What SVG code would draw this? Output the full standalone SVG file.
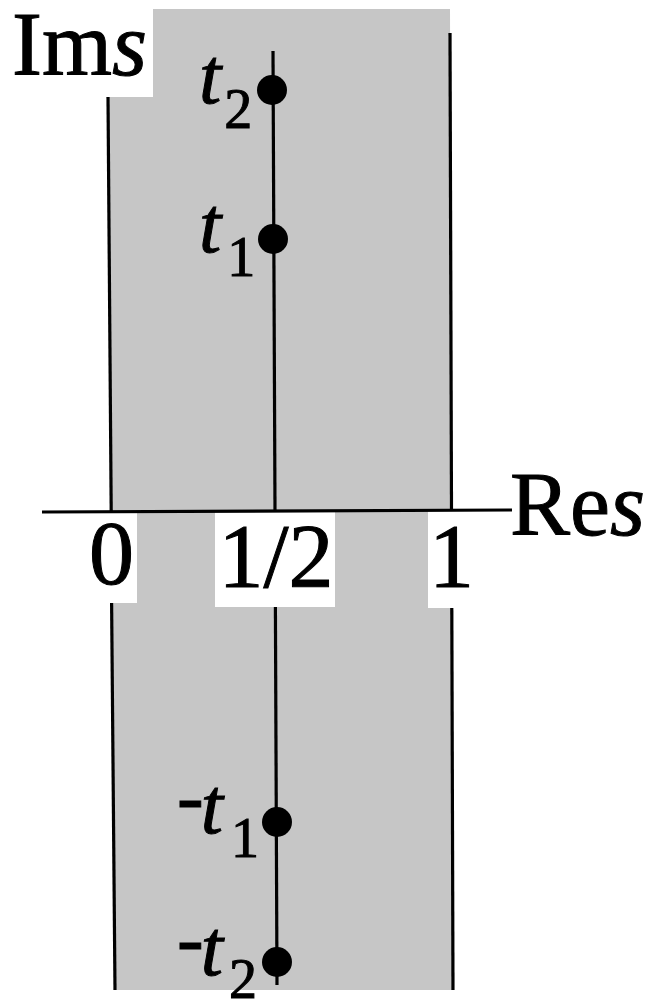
<svg xmlns="http://www.w3.org/2000/svg" width="653" height="1001" viewBox="0 0 653 1001">
<style>
text{font-family:'Liberation Serif','Times New Roman','DejaVu Serif',serif;fill:#000;stroke:#000;stroke-width:1}
.big{font-size:90px}
.tl{font-size:80px}
.it{font-style:italic}
.sub{font-size:56px;font-style:normal}
.ln{stroke:#000;stroke-width:3.2;fill:none}
.wb{fill:#fff}
.dot{fill:#000}
</style>
<rect width="653" height="1001" fill="#fff"/>
<g id="strip">
<polygon points="153,9 450,9 453,990 115,990 108,97 153,97" fill="#c6c6c6"/>
</g>
<g id="label-boxes">
<rect class="wb" x="100" y="512" width="37" height="91"/>
<rect class="wb" x="215" y="512" width="120" height="95"/>
<rect class="wb" x="428" y="511" width="40" height="97"/>
</g>
<g id="connectors">
<line class="ln" x1="108" y1="97" x2="111.2" y2="511"/>
<line class="ln" x1="111.6" y1="603" x2="115" y2="990"/>
<line class="ln" x1="273" y1="51" x2="275" y2="511"/>
<line class="ln" x1="275.4" y1="607" x2="277" y2="985"/>
<line class="ln" x1="450" y1="33" x2="451.5" y2="510"/>
<line class="ln" x1="451.8" y1="608" x2="453" y2="990"/>
<line class="ln" x1="42" y1="512" x2="512" y2="510"/>
</g>
<g id="label-ims"><text class="big" x="12" y="75">Im<tspan class="it">s</tspan></text></g>
<g id="label-res"><text class="big" x="510" y="535">Re<tspan class="it">s</tspan></text></g>
<g id="tick-0"><text class="big" x="111.5" y="584" text-anchor="middle">0</text></g>
<g id="tick-half"><text class="big" x="276" y="587" text-anchor="middle">1/2</text></g>
<g id="tick-1"><text class="big" x="451.5" y="587" text-anchor="middle">1</text></g>
<g id="node-t2">
<circle class="dot" cx="272" cy="90" r="15"/>
<text class="tl" x="199" y="103"><tspan class="it">t</tspan><tspan class="sub" dx="3" dy="25">2</tspan></text>
</g>
<g id="node-t1">
<circle class="dot" cx="273" cy="239" r="15"/>
<text class="tl" x="199" y="252"><tspan class="it">t</tspan><tspan class="sub" dx="6" dy="24">1</tspan></text>
</g>
<g id="node-mt1">
<circle class="dot" cx="277" cy="822" r="15"/>
<text class="tl" x="177" y="823">-<tspan class="it" dx="-3" dy="10">t</tspan><tspan class="sub" dx="8" dy="24">1</tspan></text>
</g>
<g id="node-mt2">
<circle class="dot" cx="277" cy="962" r="15"/>
<text class="tl" x="177" y="965">-<tspan class="it" dx="-3" dy="10">t</tspan><tspan class="sub" dx="6" dy="23">2</tspan></text>
</g>
</svg>
